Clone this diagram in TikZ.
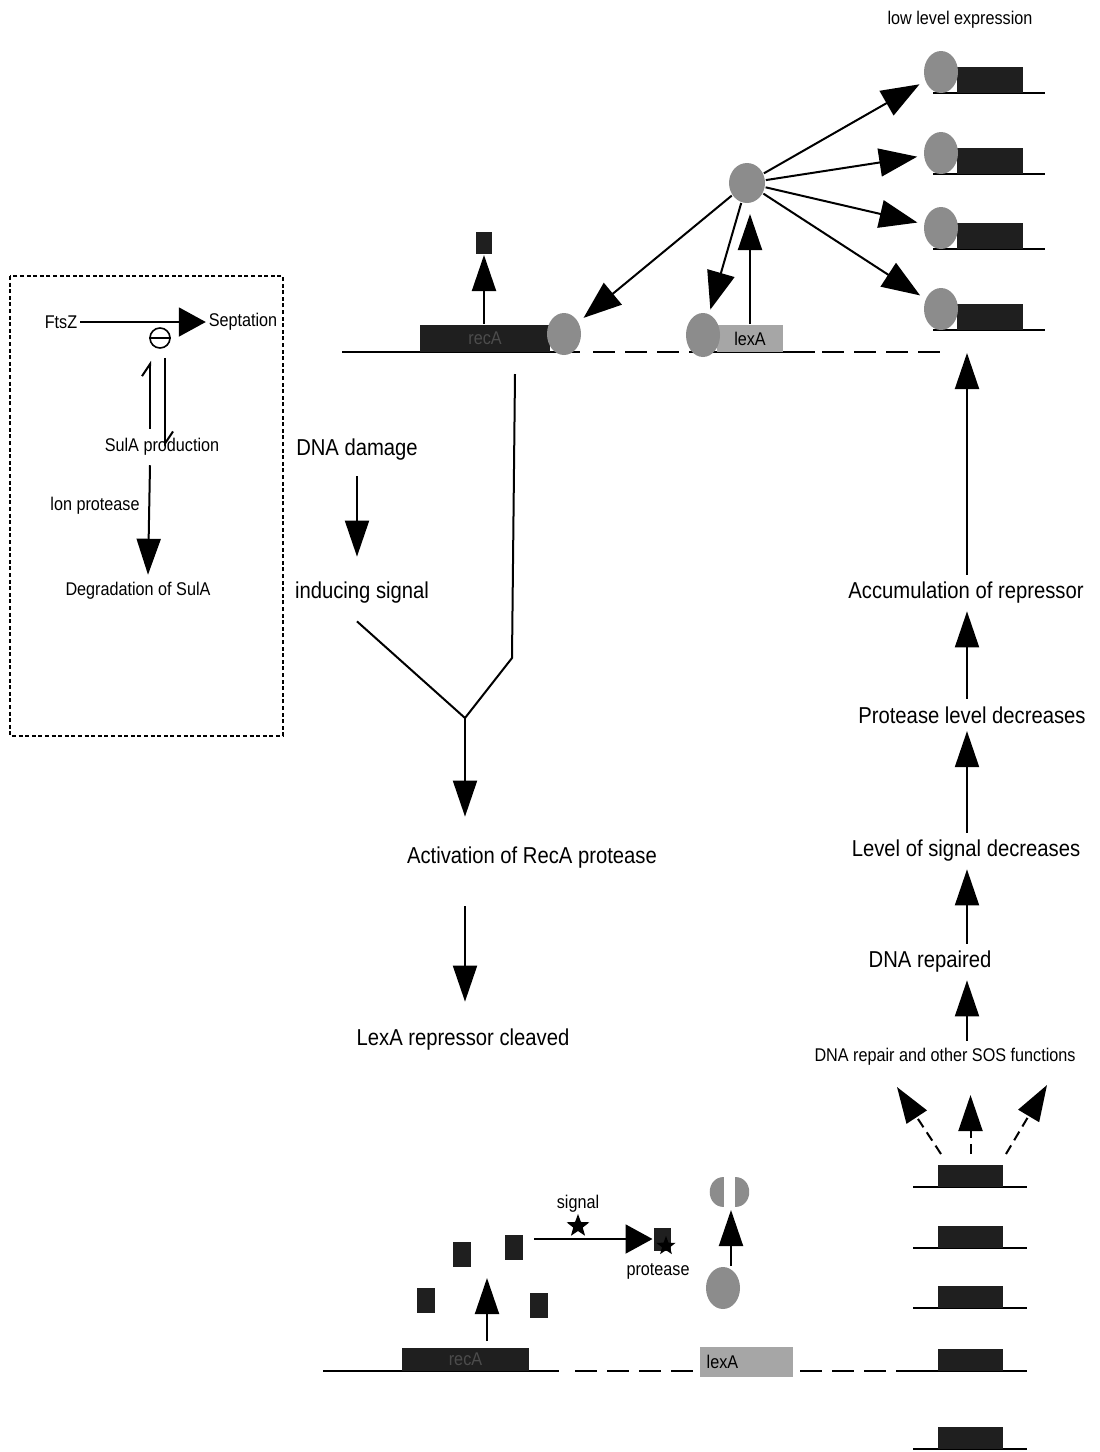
\documentclass[tikz,border=0pt]{standalone}
\usepackage{fontspec}
\setmainfont{Liberation Sans}[FakeStretch=0.88]
\usetikzlibrary{arrows.meta}
\usetikzlibrary{shapes.geometric}

\begin{document}
\begin{tikzpicture}[x=0.5pt,y=-0.5pt,line width=1pt]
    \tikzset{
        rep/.style={ellipse,fill=black!45,minimum width=17pt,minimum height=21pt,inner sep=0pt},
        gene/.style={fill=black!88,minimum width=33pt,minimum height=13pt,inner sep=0pt},
        mono/.style={fill=black!88,minimum width=9pt,minimum height=12.5pt,inner sep=0pt},
        lbl/.style={font=\fontsize{11.5}{13}\selectfont},
        lblsm/.style={font=\fontsize{9.2}{11}\selectfont},
        tri/.style={-{Triangle[length=18pt,width=12pt]}},
        fan/.style={-{Triangle[length=19pt,width=14pt]}},
        wide/.style={-{Triangle[length=13.5pt,width=14.5pt]}},
        harp/.style={-{Straight Barb[left,length=6pt,width=8pt]}},
        gap/.style={dash pattern=on 11pt off 5pt}
    }
    \useasboundingbox (0,0) rectangle (1099,1452);

    \draw[line width=0.6pt,dash pattern=on 2pt off 1.3pt] (10,276) rectangle (283,736);
    \node[lblsm,inner xsep=1pt] (ftsz) at (61,322) {FtsZ};
    \node[lblsm,inner xsep=1pt] (sept) at (243,322) {Septation};
    \node[circle,draw,line width=0.8pt,minimum size=10pt,inner sep=0pt] (inh) at (160,338) {};
    \node[lblsm] (sula) at (162,447) {SulA production};
    \node[lblsm] (lon) at (95,506) {lon protease};
    \node[lblsm] (degr) at (138,591) {Degradation of SulA};
    \draw[wide] (ftsz.east) -- (sept.west);
    \draw[line width=0.8pt] (inh.west) -- (inh.east);
    \draw[harp] ([xshift=-6pt,yshift=1pt]sula.north) -- ([xshift=-5pt,yshift=-6pt]inh.south);
    \draw[harp] ([xshift=2.5pt,yshift=-4.5pt]inh.south) -- ([xshift=1.5pt,yshift=-8pt]sula.north);
    \draw[tri] ([xshift=-6pt,yshift=-1pt]sula.south) -- ([xshift=5pt]degr.north);

    \draw (342,352) -- (580,352);
    \draw[gap] (593,352) -- (690,352);
    \draw (690,352) -- (815,352);
    \draw[gap] (822,352) -- (940,352);
    \node[gene,minimum width=65pt,minimum height=13.5pt,text=black!70,lblsm] (recAgene) at (485,338.5) {recA};
    \node[rep] (recAop) at (564,334) {};
    \node[gene,fill=black!35,minimum height=13.5pt,lblsm] (lexAgene) at (750,338.5) {lexA};
    \node[rep,minimum height=22pt] (lexAop) at (703,335) {};
    \node[rep,minimum width=18pt,minimum height=20pt] (lexAprot) at (747,183) {};
    \node[mono,minimum width=8pt,minimum height=11pt] (recAprot) at (484,243) {};
    \node[lblsm] (low) at (960,20) {low level expression};
    \foreach \ly [count=\i] in {93,174,249,330}{
        \draw (933,\ly) -- (1045,\ly);
        \node[gene] (gene\i) at (990,\ly-13) {};
        \node[rep] (op\i) at (941,\ly-21) {};
    }
    \foreach \i in {1,...,4}
        \draw[fan,shorten >=3pt] (lexAprot) -- (op\i);
    \draw[fan,shorten >=3pt] (lexAprot) -- (recAop);
    \draw[fan,shorten >=2pt] (lexAprot) -- (lexAop);
    \draw[tri,shorten >=5pt] (lexAgene.north) -- (lexAgene.north |- lexAprot.south);
    \draw[tri] (recAgene.north -| recAprot) -- (recAprot.south);

    \node[lbl] (dmg) at (357,450) {DNA damage};
    \node[lbl] (sig) at (362,593) {inducing signal};
    \node[lbl] (act) at (532,858) {Activation of RecA protease};
    \node[lbl] (cleav) at (463,1040) {LexA repressor cleaved};
    \coordinate (kink) at (512,658);
    \coordinate (fork) at (465,718);
    \path (sig.south -| dmg.south) ++(0,10) coordinate (ystart);
    \path (recAgene.south -| kink) ++(3,21) coordinate (ytip);
    \draw[tri,shorten <=4pt,shorten >=9pt] (dmg.south) -- (dmg.south |- sig.north);
    \draw (ystart) -- (fork) -- (kink) -- (ytip);
    \draw[tri,shorten >=11.5pt] (fork) -- (fork |- act.north);
    \draw[tri,shorten <=15pt,shorten >=10pt] (act.south -| fork) -- (fork |- cleav.north);

    \node[lbl] (acc) at (966,593) {Accumulation of repressor};
    \node[lbl] (prot) at (972,715) {Protease level decreases};
    \node[lbl] (lvl) at (966,851) {Level of signal decreases};
    \node[lbl] (rep) at (930,962) {DNA repaired};
    \node[lblsm] (sos) at (945,1057) {DNA repair and other SOS functions};
    \coordinate (opend) at (967,353);
    \draw[tri] (acc.north -| opend) -- (opend);
    \foreach \a/\b in {prot/acc,lvl/prot,rep/lvl,sos/rep}
        \draw[tri] (\a.north -| opend) -- (\b.south -| opend);

    \draw (323,1371) -- (559,1371);
    \draw[gap] (575,1371) -- (700,1371);
    \draw[gap] (800,1371) -- (913,1371);
    \foreach \ly [count=\i] in {1187,1248,1308,1371,1449}{
        \draw (913,\ly) -- (1027,\ly);
        \node[gene,minimum width=32.5pt,minimum height=11pt] (sosg\i) at (970.5,\ly-11) {};
    }
    \coordinate (out1) at (897,1087);
    \coordinate (out2) at (970.5,1095);
    \coordinate (out3) at (1047,1085);
    \draw[tri,dash pattern=on 5pt off 3pt] ([xshift=2pt,yshift=5pt]sosg1.north west) -- (out1);
    \draw[tri,dash pattern=on 5pt off 3pt] ([yshift=5pt]sosg1.north) -- (out2);
    \draw[tri,dash pattern=on 5pt off 3pt] ([xshift=1pt,yshift=5pt]sosg1.north east) -- (out3);

    \node[gene,minimum width=63.5pt,minimum height=11.5pt,text=black!70,lblsm] (brecA) at (465.5,1359.5) {recA};
    \node[gene,fill=black!35,minimum width=46.5pt,minimum height=15pt] (blexA) at (746.5,1362) {};
    \node[lblsm,anchor=west] (blexAlbl) at (blexA.west) {lexA};
    \coordinate (burst) at (487,1278);
    \draw[tri] ([xshift=10.75pt,yshift=3pt]brecA.north) -- (burst);
    \foreach \p/\q [count=\i] in {426/1300,462/1254,514/1247,539/1305}
        \node[mono] (rp\i) at (\p,\q) {};
    \node[mono,minimum width=8.5pt,minimum height=11.5pt] (protact) at (662,1239) {};
    \node[star,star points=5,star point ratio=2.4,fill=black,minimum size=12pt,inner sep=0pt] (sigstar) at (578,1226) {};
    \node[star,star points=5,star point ratio=2.4,fill=black,minimum size=10pt,inner sep=0pt] (pstar) at (666,1246) {};
    \node[lblsm] (siglbl) at (578,1204) {signal};
    \node[lblsm] (protlbl) at (658,1271) {protease};
    \path (rp3.east |- protact.west) ++(10,0) coordinate (sigstart);
    \draw[wide] (sigstart) -- (protact.west);
    \node[rep] (brep) at (723,1288) {};
    \coordinate (cleave) at (731,1210);
    \draw[tri] ([xshift=4pt]brep.north) -- (cleave);
    \fill[black!45] (724,1177) .. controls (705,1177) and (705,1207) .. (724,1207) -- cycle;
    \fill[black!45] (735,1177) .. controls (754,1177) and (754,1207) .. (735,1207) -- cycle;
\end{tikzpicture}
\end{document}
